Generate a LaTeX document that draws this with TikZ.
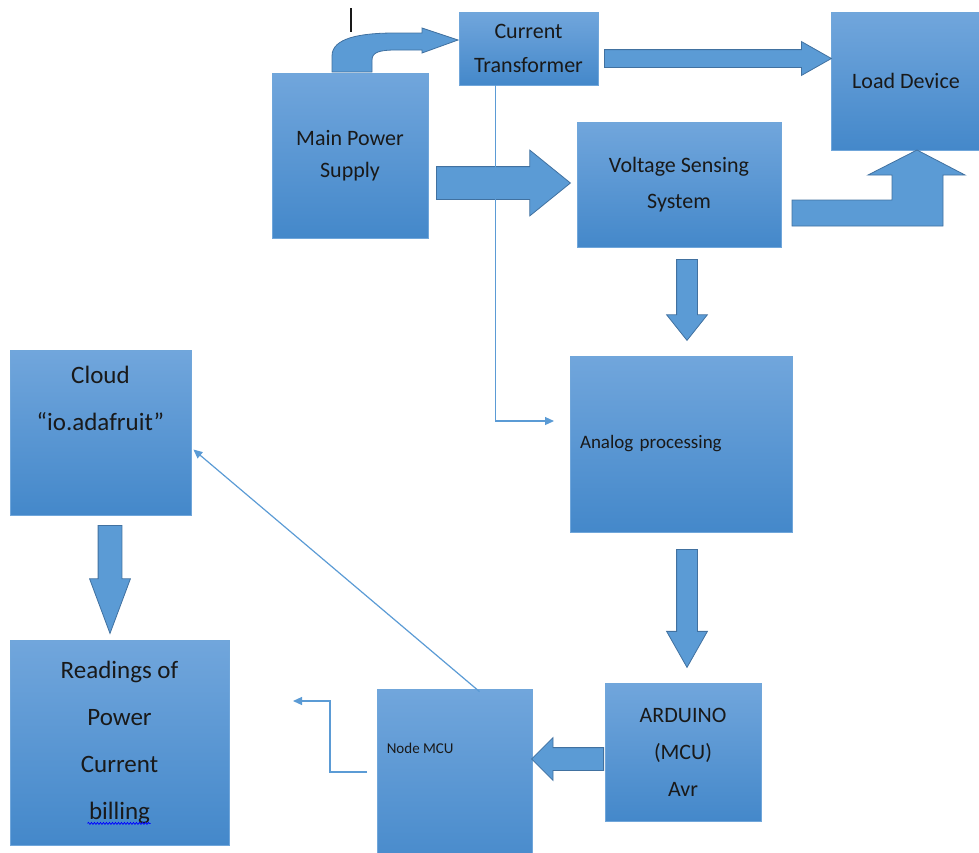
\documentclass[tikz,border=0pt]{standalone}
\usepackage{fontspec}
\setmainfont{Carlito}
\usetikzlibrary{shapes.arrows, arrows.meta, positioning, calc, decorations.pathmorphing}

\definecolor{boxtop}{RGB}{113,166,220}
\definecolor{boxbot}{RGB}{68,136,202}
\definecolor{boxedge}{RGB}{112,166,218}
\definecolor{arrowfill}{RGB}{91,155,213}
\definecolor{arrowedge}{RGB}{65,113,160}
\definecolor{wire}{RGB}{91,155,213}
\definecolor{ink}{RGB}{25,25,25}

\tikzset{
  blockbox/.style={draw=boxedge, line width=0.8pt, top color=boxtop, bottom color=boxbot, inner sep=0pt, align=center, text=ink},
  fatarrow/.style={single arrow, draw=arrowedge, line width=0.8pt, fill=arrowfill, inner xsep=0pt, anchor=tail},
  bentarrow/.style={draw=arrowedge, line width=0.8pt, fill=arrowfill},
  wirearrow/.style={draw=wire, line width=1.2pt, -{Triangle[length=9pt,width=8pt]}}
}

\begin{document}
\begin{tikzpicture}[x=1pt,y=-1pt]
\useasboundingbox (0,0) rectangle (979,852);
\clip (0,0) rectangle (979,852);
% Power side
\node[blockbox, minimum width=156pt, minimum height=165pt, font=\fontsize{22}{32}\selectfont] (mps) at (350,155.5) {Main Power\\Supply};
\node[blockbox, minimum width=139pt, minimum height=73pt, font=\fontsize{22}{34}\selectfont] (ct) at (528.5,48.5) {Current\\Transformer};
\node[blockbox, minimum width=150pt, minimum height=138pt, font=\fontsize{22}{32}\selectfont] (load) at (906,81) {Load Device};
\node[blockbox, minimum width=204pt, minimum height=125pt, font=\fontsize{22}{36}\selectfont] (vss) at (679,184.5) {Voltage Sensing\\System};
% Processing
\node[blockbox, minimum width=222pt, minimum height=176pt, text width=202pt, align=left, font=\fontsize{19}{22}\selectfont] (ap) at (681,444) {Analog processing};
\node[blockbox, minimum width=156pt, minimum height=138pt, font=\fontsize{22}{37}\selectfont] (ard) at (683,752) {ARDUINO\\(MCU)\\Avr};
\node[blockbox, minimum width=155pt, minimum height=191pt,
  label={[anchor=west, inner sep=0pt, xshift=10pt, yshift=-60pt, text=ink, font=\fontsize{15}{18}\selectfont]north west:Node MCU}] (nmcu) at (454.5,784.5) {};
% Cloud side
\node[blockbox, minimum width=181pt, minimum height=165pt,
  label={[anchor=north, inner sep=0pt, yshift=-16pt, align=center, text=ink, font=\fontsize{25}{47}\selectfont]north:Cloud\\“io.adafruit”}] (cloud) at (100.5,432.5) {};
\node[blockbox, minimum width=219pt, minimum height=205pt, font=\fontsize{25}{47}\selectfont] (read) at (119.5,742.5) {Readings of\\Power\\Current\\billing};

% Block arrows
\draw[bentarrow] (332,72) -- (332,56) .. controls (332,38) and (360,33) .. (395,33) -- (422,33) -- (422,28) -- (458,40) -- (422,53) -- (422,50) -- (396,50) .. controls (380,50) and (372,52) .. (372,60) -- (372,72) -- cycle;
\node[fatarrow, inner ysep=8.5pt, single arrow head extend=8pt, minimum height=227pt, single arrow tip angle=59] (ct2load) at (604,58.5) {};
\node[fatarrow, inner ysep=16pt, single arrow head extend=16.5pt, minimum height=134pt, single arrow tip angle=78] (mps2vss) at (436,183) {};
\draw[bentarrow] (792,200) -- (892,200) -- (892,175) -- (868,175) -- (917,150) -- (965,175) -- (943,175) -- (943,226) -- (792,226) -- cycle;
\node[fatarrow, rotate=-90, inner ysep=10pt, single arrow head extend=10pt, minimum height=81pt, single arrow tip angle=77] (vss2ap) at (687,259) {};
\node[fatarrow, rotate=-90, inner ysep=10pt, single arrow head extend=10pt, minimum height=118pt, single arrow tip angle=59] (ap2ard) at (687,549) {};
\node[fatarrow, rotate=180, inner ysep=11pt, single arrow head extend=10pt, minimum height=72pt, single arrow tip angle=90] (ard2nmcu) at (604,759) {};
\node[fatarrow, rotate=-90, inner ysep=11.5pt, single arrow head extend=8.5pt, minimum height=108pt, single arrow tip angle=41] (cloud2read) at (110,525) {};

% Thin connectors
\coordinate (apin) at (554,421);
\coordinate (nmcuout) at (367,772);
\coordinate (readin) at (293,701);
\draw[wirearrow] ($(ct.south west)+(37,0)$) |- (apin);
\draw[wirearrow] ($(nmcu.north)+(25,3)$) -- ($(cloud.east)+(2,17)$);
\draw[wirearrow] (nmcuout) -| ($(readin)+(37,0)$) -- (readin);

% marks
\draw[ink, line width=1.4pt] (351,8) -- (351,32);
\draw[blue, line width=0.7pt, decorate, decoration={snake, amplitude=1pt, segment length=3pt}] ($(read.south)+(-32,-22)$) -- ($(read.south)+(31,-22)$);
\end{tikzpicture}
\end{document}
